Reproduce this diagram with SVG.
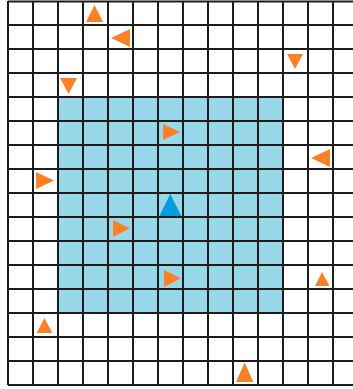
<svg xmlns="http://www.w3.org/2000/svg" width="353" height="389" viewBox="0 0 353 389">
<style>
.grid{stroke:#1c1c1c;stroke-width:2;fill:none}
.o{fill:#fd7f26}
.b{fill:#009ddf}
</style>
<rect x="0" y="0" width="353" height="389" fill="#ffffff"/>
<rect id="zone" x="58" y="97" width="225" height="216" fill="#99d8e9"/>
<path class="grid" d="M8 1V385M33 1V385M58 1V385M83 1V385M108 1V385M133 1V385M158 1V385M183 1V385M208 1V385M233 1V385M258 1V385M283 1V385M308 1V385M333 1V385
M8 1.5H353M8 25H353M8 49H353M8 73H353M8 97H353M8 121H353M8 145H353M8 169H353M8 193H353M8 217H353M8 241H353M8 265H353M8 289H353M8 313H353M8 337H353M8 361H353M8 385H353"/>
<g id="t1"><polygon class="o" points="94.5,5 86,22 103,22"/></g>
<g id="t2"><polygon class="o" points="111,38 130,29 130,47"/></g>
<g id="t3"><polygon class="o" points="60,78 77,78 68.5,94"/></g>
<g id="t4"><polygon class="o" points="287,54 303,54 295,69"/></g>
<g id="t5"><polygon class="o" points="163,124 180,132 163,140"/></g>
<g id="t6"><polygon class="o" points="311,158 330,149 330,167"/></g>
<g id="t7"><polygon class="o" points="36,172 54,180.5 36,189"/></g>
<g id="t8"><polygon class="b" points="170.3,194 159.3,216 181.3,216"/></g>
<g id="t9"><polygon class="o" points="113,220 130,228.3 113,237"/></g>
<g id="t10"><polygon class="o" points="164,270 181,278.3 164,287"/></g>
<g id="t11"><polygon class="o" points="322,272 315,286 329.5,286"/></g>
<g id="t12"><polygon class="o" points="44.5,318 36.7,333 52.3,333"/></g>
<g id="t13"><polygon class="o" points="244.7,362.5 236,382 253.3,382"/></g>
</svg>
